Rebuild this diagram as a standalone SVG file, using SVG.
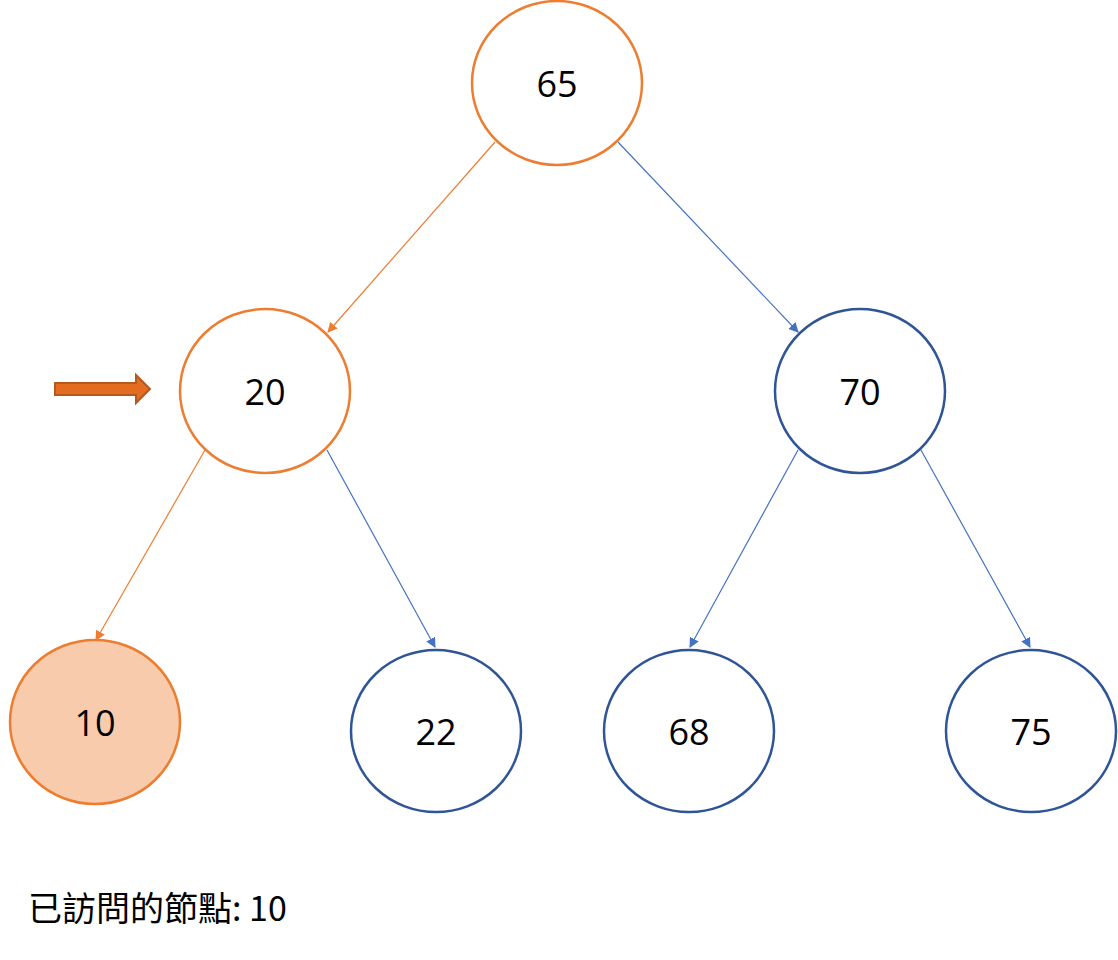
<svg xmlns="http://www.w3.org/2000/svg" width="1118" height="960" viewBox="0 0 1118 960">
<style>
.n{fill:#fff;stroke:#2F5597;stroke-width:2.5}
.o{fill:#fff;stroke:#ED7D31;stroke-width:2.5}
.t{font-family:"Open Sans","Noto Sans","Liberation Sans",sans-serif;font-size:36px;text-anchor:middle;dominant-baseline:central;fill:#000}
.eb{stroke:#4472C4;stroke-width:1.2;fill:none;marker-end:url(#ab)}
.eo{stroke:#ED7D31;stroke-width:1.2;fill:none;marker-end:url(#ao)}
</style>
<defs>
<marker id="ab" markerWidth="10" markerHeight="10" refX="9" refY="5" orient="auto" markerUnits="userSpaceOnUse"><path d="M0,0L10,5L0,10z" fill="#4472C4"/></marker>
<marker id="ao" markerWidth="10" markerHeight="10" refX="9" refY="5" orient="auto" markerUnits="userSpaceOnUse"><path d="M0,0L10,5L0,10z" fill="#ED7D31"/></marker>
</defs>
<rect width="1118" height="960" fill="#fff"/>
<g id="connectors">
<line class="eo" x1="495" y1="142" x2="328" y2="332"/>
<line class="eb" x1="618" y1="142" x2="798" y2="332"/>
<line class="eo" x1="205" y1="450" x2="96" y2="640"/>
<line class="eb" x1="327" y1="450" x2="435" y2="647"/>
<line class="eb" x1="798" y1="450" x2="690" y2="647"/>
<line class="eb" x1="921" y1="450" x2="1030" y2="647"/>
</g>
<g id="n65"><ellipse class="o" cx="557" cy="83" rx="85" ry="82"/><text class="t" x="557" y="83">65</text></g>
<g id="n20"><ellipse class="o" cx="265" cy="391" rx="85" ry="82"/><text class="t" x="265" y="391">20</text></g>
<g id="n70"><ellipse class="n" cx="860" cy="391" rx="85" ry="82"/><text class="t" x="860" y="391">70</text></g>
<g id="n10"><ellipse cx="95" cy="722" rx="85" ry="82" fill="#F8CBAD" stroke="#ED7D31" stroke-width="2.5"/><text class="t" x="95" y="722">10</text></g>
<g id="n22"><ellipse class="n" cx="436" cy="731" rx="85" ry="81"/><text class="t" x="436" y="731">22</text></g>
<g id="n68"><ellipse class="n" cx="689" cy="731" rx="85" ry="81"/><text class="t" x="689" y="731">68</text></g>
<g id="n75"><ellipse class="n" cx="1031" cy="731" rx="85" ry="81"/><text class="t" x="1031" y="731">75</text></g>
<g id="pointer"><path d="M55,383H136V375L150,389L136,403V395H55z" fill="#E46C20" stroke="#B55A1E" stroke-width="2"/></g>
<text x="28" y="921" font-family="'Noto Sans CJK TC',sans-serif" font-size="34" fill="#000">已訪問的節點: 10</text>
</svg>
